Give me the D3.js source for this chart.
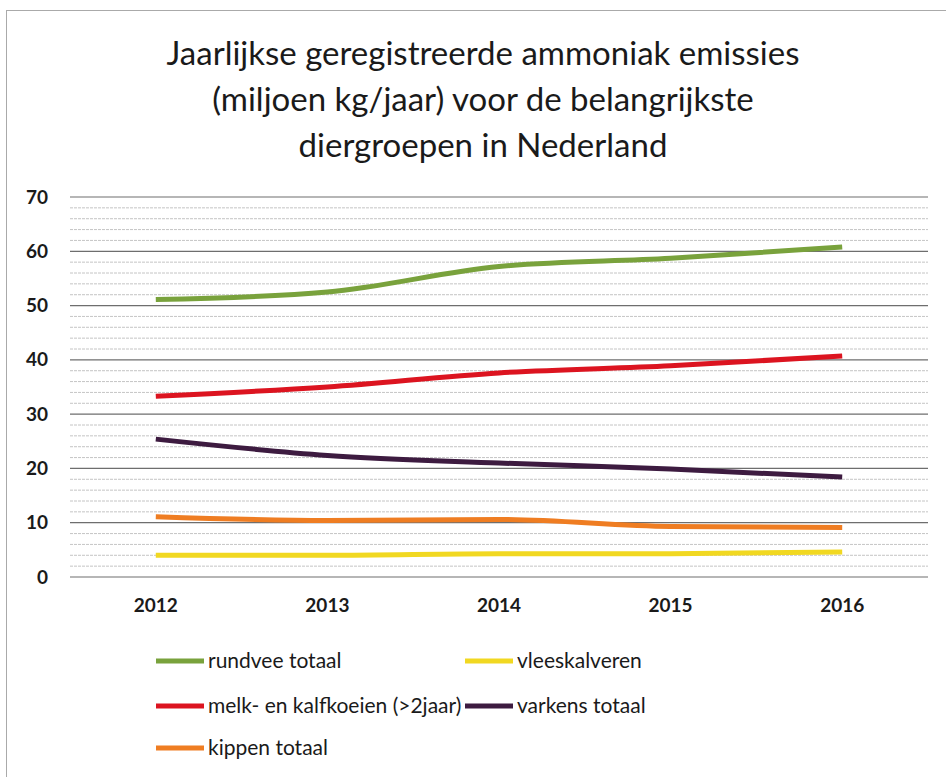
<!DOCTYPE html>
<html>
<head>
<meta charset="utf-8">
<script src="https://cdn.jsdelivr.net/npm/d3@7"></script>
<style>
  body { margin: 0; background: #fff; }
  svg { display: block; }
  text { font-family: Lato, "Open Sans", sans-serif; fill: #1a1a1a; }
</style>
</head>
<body>
<svg id="chart" width="946" height="777"></svg>
<script>
const years = ['2012', '2013', '2014', '2015', '2016']
const rundvee = [51.1, 52.5, 57.2, 58.7, 60.8]
const melkKoeien = [33.3, 35.0, 37.6, 38.9, 40.7]
const varkens = [25.4, 22.4, 21.0, 19.9, 18.4]
const kippen = [11.1, 10.4, 10.6, 9.3, 9.1]
const vleeskalveren = [4.0, 4.0, 4.3, 4.3, 4.6]
const yTicks = [0, 10, 20, 30, 40, 50, 60, 70]
const titleLines = [
    'Jaarlijkse geregistreerde ammoniak emissies',
    '(miljoen kg/jaar) voor de belangrijkste',
    'diergroepen in Nederland'
]

// drawing order = legend order
const series = [
    {name: 'rundvee totaal', values: rundvee, color: '#79a23c'},
    {name: 'vleeskalveren', values: vleeskalveren, color: '#f1d821'},
    {name: 'melk- en kalfkoeien (>2jaar)', values: melkKoeien, color: '#dc1420'},
    {name: 'varkens totaal', values: varkens, color: '#3d1b40'},
    {name: 'kippen totaal', values: kippen, color: '#ef7d22'}
]

const svg = d3.select('#chart')

// scanned frame
svg.append('rect')
    .attr('x', 6.5).attr('y', 10.5)
    .attr('width', 960).attr('height', 800)
    .attr('fill', 'none')
    .attr('stroke', '#aaa')
    .attr('stroke-width', 1)

const plotLeft = 70, plotRight = 928, plotTop = 197, plotBottom = 577

const x = d3.scaleBand().domain(years).range([plotLeft, plotRight])
const y = d3.scaleLinear().domain([0, 70]).range([plotBottom, plotTop])

// title
svg.append('g').selectAll('text')
    .data(titleLines)
    .enter()
    .append('text')
    .attr('x', 483)
    .attr('y', (d, i) => 65 + i * 46)
    .attr('text-anchor', 'middle')
    .attr('font-size', 33)
    .text(d => d)

// minor gridlines
const minor = d3.range(2, 70, 2).filter(v => v % 10 !== 0)
svg.append('g').selectAll('line')
    .data(minor)
    .enter()
    .append('line')
    .attr('x1', plotLeft).attr('x2', plotRight)
    .attr('y1', d => y(d)).attr('y2', d => y(d))
    .attr('stroke', '#b5b5b5')
    .attr('stroke-width', 0.8)
    .attr('stroke-dasharray', '3,1')

// major gridlines
svg.append('g').selectAll('line')
    .data(yTicks)
    .enter()
    .append('line')
    .attr('x1', plotLeft).attr('x2', plotRight)
    .attr('y1', d => y(d)).attr('y2', d => y(d))
    .attr('stroke', '#6e6e6e')
    .attr('stroke-width', 1.2)

// y axis labels
const yAxis = svg.append('g')
    .attr('transform', `translate(${plotLeft},0)`)
    .call(d3.axisLeft(y).tickValues(yTicks).tickSize(0).tickPadding(22))
yAxis.select('.domain').remove()
yAxis.selectAll('text')
    .attr('font-size', 19)
    .attr('font-weight', 'bold')
    .attr('font-family', 'Lato, sans-serif')
    .attr('fill', '#1a1a1a')

// x axis labels
const xAxis = svg.append('g')
    .attr('transform', `translate(0,${plotBottom})`)
    .call(d3.axisBottom(x).tickSize(0).tickPadding(22))
xAxis.select('.domain').remove()
xAxis.selectAll('text')
    .attr('font-size', 19)
    .attr('font-weight', 'bold')
    .attr('font-family', 'Lato, sans-serif')
    .attr('fill', '#1a1a1a')

// lines
const line = d3.line()
    .x((d, i) => x(years[i]) + x.bandwidth() / 2)
    .y(d => y(d))
    .curve(d3.curveMonotoneX)

svg.append('g').selectAll('path')
    .data(series)
    .enter()
    .append('path')
    .attr('d', d => line(d.values))
    .attr('fill', 'none')
    .attr('stroke', d => d.color)
    .attr('stroke-width', 5)

// legend
const legendPos = [
    {x: 156, y: 661}, {x: 465, y: 661},
    {x: 156, y: 706}, {x: 465, y: 706},
    {x: 156, y: 748}
]
const legend = svg.append('g').selectAll('g')
    .data(series)
    .enter()
    .append('g')
    .attr('transform', (d, i) => `translate(${legendPos[i].x},${legendPos[i].y})`)

legend.append('line')
    .attr('x1', 0).attr('x2', 48)
    .attr('stroke', d => d.color)
    .attr('stroke-width', 5)

legend.append('text')
    .attr('x', 52)
    .attr('dy', '0.35em')
    .attr('font-size', 21)
    .text(d => d.name)
</script>
</body>
</html>
